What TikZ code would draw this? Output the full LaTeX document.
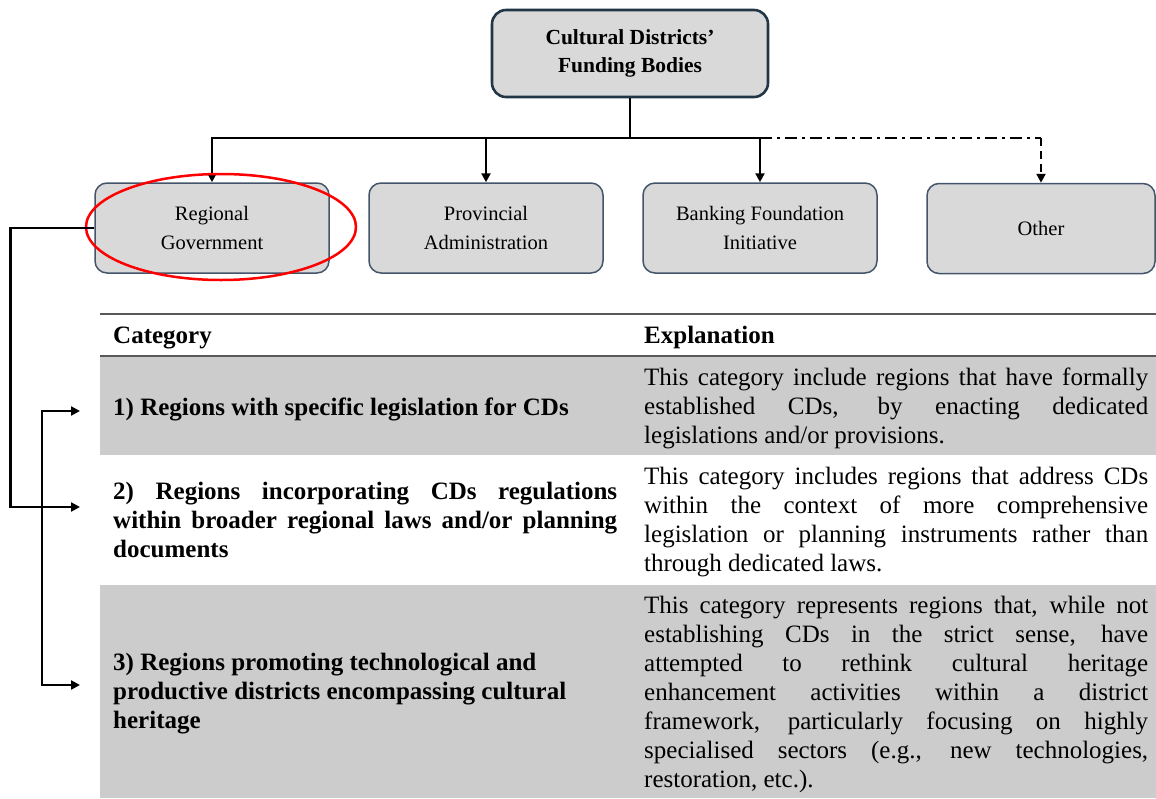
\documentclass[tikz,border=0pt]{standalone}
\usepackage{fontspec}
\setmainfont{Liberation Serif}
\usetikzlibrary{arrows.meta}
\definecolor{boxfill}{HTML}{D9D9D9}
\definecolor{boxline}{HTML}{44546A}
\definecolor{topline}{HTML}{233645}
\definecolor{rowfill}{HTML}{CCCCCC}
\definecolor{rulecol}{HTML}{595959}
\newcommand{\jl}[1]{\makebox[504pt][s]{#1}}
\begin{document}
\begin{tikzpicture}[x=1pt,y=-1pt,
  fbox/.style={draw=boxline, fill=boxfill, line width=1.5pt, rounded corners=12pt,
    minimum width=234pt, minimum height=90pt, align=center, inner sep=0pt,
    font=\fontsize{20.5}{29}\selectfont},
  topbox/.style={draw=topline, fill=boxfill, line width=2.6pt, rounded corners=14pt,
    minimum width=276pt, minimum height=87pt, align=center, inner sep=0pt,
    font=\bfseries\fontsize{21.5}{28}\selectfont},
  conline/.style={line width=2.5pt},
  conn/.style={conline, -{Triangle[length=9pt,width=9pt]}},
  twoway/.style={conline, {Triangle[length=9pt,width=9pt]}-{Triangle[length=9pt,width=9pt]}},
  dashdot/.style={conline, dash pattern=on 12pt off 5pt on 3pt off 5pt},
  dashedarrow/.style={conn, dash pattern=on 8pt off 5pt},
  hl/.style={draw=red, line width=2.5pt},
  rulestyle/.style={draw=rulecol, line width=2pt},
  cell/.style={anchor=north west, inner sep=0pt, align=left,
    font=\fontsize{25}{29}\selectfont},
  boldcell/.style={anchor=north west, inner sep=0pt, align=left,
    font=\bfseries\fontsize{25}{29}\selectfont}
]
\useasboundingbox (0,0) rectangle (1156,798);

% table backgrounds
\fill[rowfill] (100,357) rectangle (1156,455);
\fill[rowfill] (100,585) rectangle (1156,798);
\draw[rulestyle] (100,314) -- (1156,314);
\draw[rulestyle] (100,356) -- (1156,356);

% top hierarchy
\node[topbox] (top) at (630,53.5) {Cultural Districts’\\Funding Bodies};
\node[fbox] (reg) at (212,228) {Regional\\Government};
\node[fbox] (prov) at (486,228) {Provincial\\Administration};
\node[fbox] (bank) at (760,228) {Banking Foundation\\Initiative};
\node[fbox, minimum width=228pt] (oth) at (1041,228.5) {Other};

\coordinate (hub) at (630,138);
\draw[conline] (top.south) -- (hub);
\draw[conn] (hub) -| (reg.north);
\draw[conn] (hub) -| (prov.north);
\draw[conn] (hub) -| (bank.north);
\draw[dashdot] (hub -| bank.north) -- (hub -| oth.north);
\draw[dashedarrow] (hub -| oth.north) -- (oth.north);

\draw[hl] (221,227) ellipse [x radius=135pt, y radius=53pt];

% table text
\node[boldcell] (hcat) at (113,322.7) {\strut Category};
\node[boldcell] (hexp) at (644,322.7) {\strut Explanation};

\node[boldcell] (c1) at (113,394.7) {\strut 1) Regions with specific legislation for CDs};
\node[cell] (e1) at (644,364.7) {\strut\jl{This category include regions that have formally}\\
  \jl{established CDs, by enacting dedicated}\\
  legislations and/or provisions.};

\node[boldcell] (c2) at (113,478.7) {\strut\jl{2) Regions incorporating CDs regulations}\\
  \jl{within broader regional laws and/or planning}\\
  documents};
\node[cell] (e2) at (644,463.7) {\strut\jl{This category includes regions that address CDs}\\
  \jl{within the context of more comprehensive}\\
  \jl{legislation or planning instruments rather than}\\
  through dedicated laws.};

\node[boldcell] (c3) at (113,649.7) {\strut 3) Regions promoting technological and\\
  productive districts encompassing cultural\\
  heritage};
\node[cell] (e3) at (644,592.7) {\strut\jl{This category represents regions that, while not}\\
  \jl{establishing CDs in the strict sense, have}\\
  \jl{attempted to rethink cultural heritage}\\
  \jl{enhancement activities within a district}\\
  \jl{framework, particularly focusing on highly}\\
  \jl{specialised sectors (e.g., new technologies,}\\
  restoration, etc.).};

% left connectors
\coordinate (r1) at (80,411);
\coordinate (r2) at (80,507);
\coordinate (r3) at (80,685);
\coordinate (b3) at (42,685);
\draw[conn] (reg.west) -- ++(-84,0) |- (r2);
\draw[twoway] (r1) -| (b3) -- (r3);
\end{tikzpicture}
\end{document}
